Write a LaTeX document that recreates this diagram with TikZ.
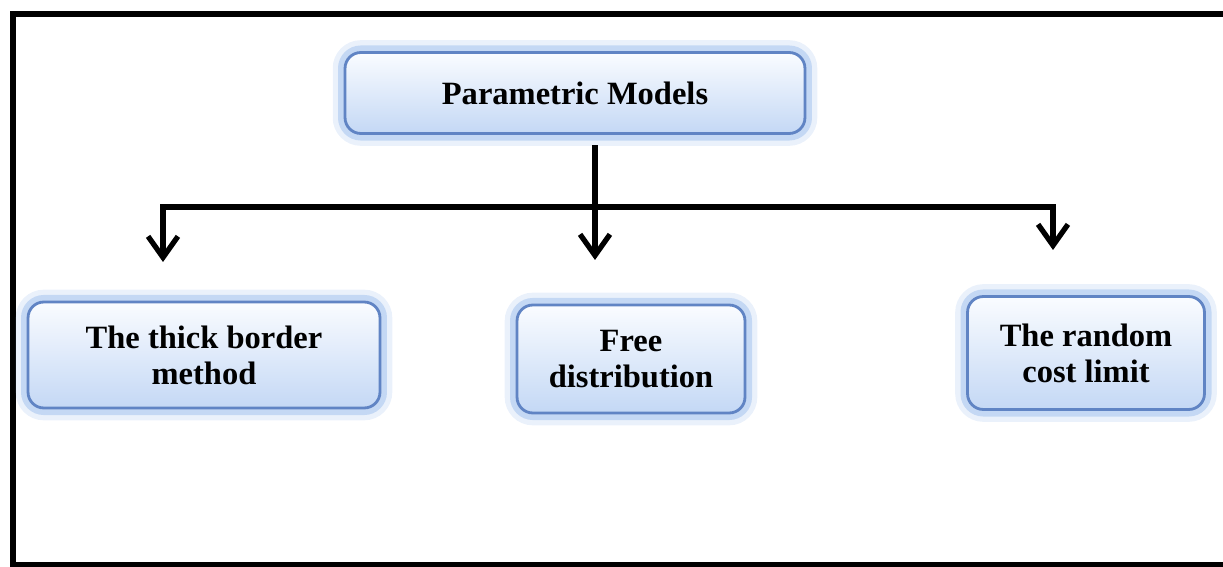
\documentclass[tikz,border=0pt]{standalone}
\usepackage{fontspec}
\setmainfont{Liberation Serif}
\usetikzlibrary{arrows.meta}

\definecolor{boxedge}{RGB}{96,132,196}
\definecolor{boxglow}{RGB}{150,185,235}
\definecolor{boxtop}{RGB}{250,252,255}
\definecolor{boxbot}{RGB}{196,216,245}

\tikzset{
  modbox/.style={rounded corners=9pt, align=center, text=black,
    font=\fontsize{18.5}{20.5}\selectfont\bfseries,
    top color=boxtop, bottom color=boxbot, draw=boxedge, line width=1.6pt,
    preaction={draw=boxglow, line width=14pt, opacity=0.2},
    preaction={draw=boxglow, line width=8pt, opacity=0.45},
    inner sep=0pt},
  link/.style={line width=3pt, -{Straight Barb[length=12pt,width=17pt,line width=3pt]}}
}

\begin{document}
\begin{tikzpicture}[x=0.02cm, y=-0.02cm]
\useasboundingbox (0,0) rectangle (1223,567);
\draw[line width=3.2pt] (1223,14) -- (13,14) -- (13,565) -- (1223,565);

%%   kw   (name)   (x, y)   {text}
    \node[modbox, minimum width=9.2cm, minimum height=1.62cm] (pm) at (575, 93) {Parametric Models};
    \node[modbox, minimum width=7.04cm, minimum height=2.12cm] (tb) at (204, 355) {The thick border\\method};
    \node[modbox, minimum width=4.56cm, minimum height=2.16cm] (fd) at (631, 359) {Free\\distribution};
    \node[modbox, minimum width=4.74cm, minimum height=2.26cm] (rc) at (1086, 353) {The random\\cost limit};

    \coordinate (jn) at (595, 207);
    \coordinate (ta) at (163, 262);
    \coordinate (tf) at (595, 260);
    \coordinate (tc) at (1053, 250);

    \draw[link, shorten <=6pt] (pm.south -| tf) -- (tf);
    \draw[line width=3pt] (ta |- jn) -- (tc |- jn);
    \draw[link] ([yshift=1.5pt]ta |- jn) -- (ta);
    \draw[link] ([yshift=1.5pt]tc |- jn) -- (tc);
\end{tikzpicture}
\end{document}
